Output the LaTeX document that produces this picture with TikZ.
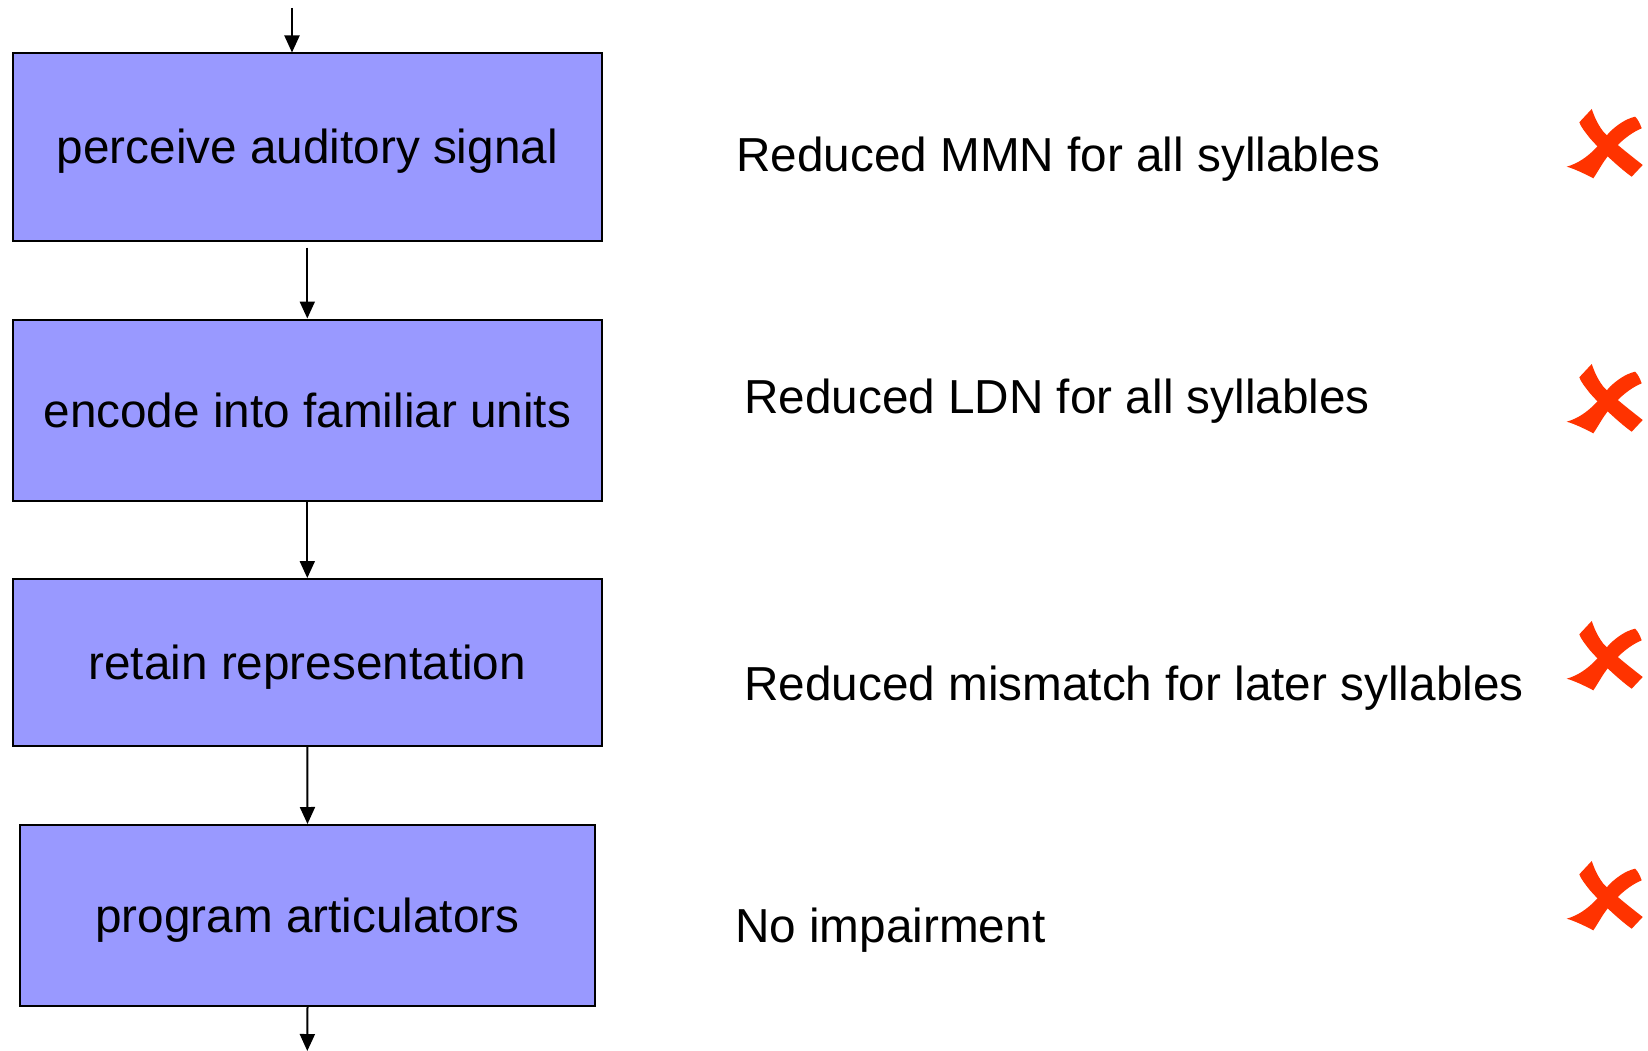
\documentclass[tikz,border=0pt]{standalone}
\usepackage{fontspec}
\setmainfont{Liberation Sans}
\usetikzlibrary{arrows.meta}
\definecolor{boxfill}{RGB}{153,153,255}
\definecolor{xred}{RGB}{255,51,0}
\begin{document}
\begin{tikzpicture}[x=1pt,y=-1pt,
  stepbox/.style={draw=black,line width=2pt,fill=boxfill,inner sep=0pt,
    minimum width=589pt,text height=34pt,text depth=0pt,
    font=\fontsize{47.7}{57}\selectfont},
  result/.style={anchor=west,inner sep=0pt,text height=34pt,text depth=0pt,
    font=\fontsize{47.7}{57}\selectfont},
  flow/.style={line width=2pt,-{Triangle[width=15pt,length=17pt]}},
  cross/.pic={
    \fill[xred,x=1pt,y=-1pt] (29.3,22.3) -- (41.7,9)
      .. controls (44,15) and (46,22) .. (53.3,31.7)
      .. controls (62,41) and (80,55) .. (92.7,65) -- (81.7,76.7)
      .. controls (72,70) and (52,52) .. (40,38.3)
      .. controls (35,32) and (31,27) .. cycle;
    \fill[xred,x=1pt,y=-1pt] (85,16.7)
      .. controls (75,19) and (66,26) .. (60,31.7)
      .. controls (52,40) and (40,60) .. (16.7,66.7)
      .. controls (25,69) and (35,74) .. (43.3,78.3)
      .. controls (47,73) and (52,64) .. (55,60)
      .. controls (65,46) and (78,34) .. (91.7,28.3)
      .. controls (90,24) and (88,19) .. cycle;
  }]
\useasboundingbox (0,0) rectangle (1648,1051);
\fill[white] (0,0) rectangle (1648,1051);

\node[stepbox,minimum height=187pt] (b1) at (307.3,147) {perceive auditory signal};
\node[stepbox,minimum height=181pt] (b2) at (307.3,410) {encode into familiar units};
\node[stepbox,minimum height=167pt] (b3) at (307.3,662.5) {retain representation};
\node[stepbox,minimum height=181pt,minimum width=575pt] (b4) at (307.5,915.5) {program articulators};

\coordinate (in) at (292,8);
\coordinate (out) at (307.3,1051);
\draw[flow] (in) -- (in |- b1.north);
\draw[flow,shorten <=6pt] (b1.south) -- (b2.north);
\draw[flow] (b2.south) -- (b3.north);
\draw[flow] (b3.south) -- (b4.north);
\draw[flow] (b4.south) -- (out);

\node[result] (r1) at (736,155) {Reduced MMN for all syllables};
\node[result] (r2) at (744,396) {Reduced LDN for all syllables};
\node[result] (r3) at (744,683) {Reduced mismatch for later syllables};
\node[result] (r4) at (735,925) {No impairment};

\pic at (1550,100) {cross};
\pic at (1550,355) {cross};
\pic at (1550,612) {cross};
\pic at (1550,852) {cross};
\end{tikzpicture}
\end{document}
